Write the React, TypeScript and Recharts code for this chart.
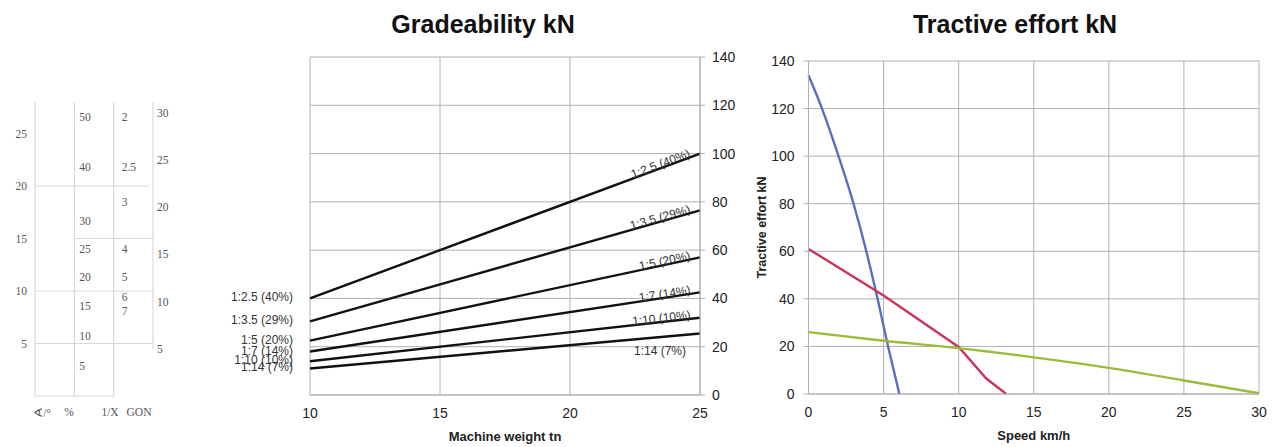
import React from 'react';
import {
  LineChart,
  Line,
  ScatterChart,
  Scatter,
  XAxis,
  YAxis,
  CartesianGrid,
  ReferenceLine,
} from 'recharts';

// Slope conversion scales (left panel)
const scaleNames = ['∢/°', '%', '1/X', 'GON'];
const degreeTicks = [5, 10, 15, 20, 25];
const percentTicks = [50, 40, 30, 25, 20, 15, 10, 5];
const ratioTicks = [2, 2.5, 3, 4, 5, 6, 7];
const gonTicks = [30, 25, 20, 15, 10, 5];

// Gradeability
const machineWeights = [10, 25];
const gradeNames = ['1:2.5 (40%)', '1:3.5 (29%)', '1:5 (20%)', '1:7 (14%)', '1:10 (10%)', '1:14 (7%)'];
const grade40 = [40, 100];
const grade29 = [30.5, 76.5];
const grade20 = [22.5, 57];
const grade14 = [18, 42.5];
const grade10 = [14, 32];
const grade7 = [11, 25.5];
const gradeTicks = [0, 20, 40, 60, 80, 100, 120, 140];
const weightTicks = [10, 15, 20, 25];

// Tractive effort
const speedTicks = [0, 5, 10, 15, 20, 25, 30];
const effortTicks = [0, 20, 40, 60, 80, 100, 120, 140];
const blueSpeed = [0, 0.9, 2.0, 3.0, 3.85, 4.6, 5.3, 6.05];
const blueEffort = [134, 120, 100, 80, 60, 40, 20, 0];
const redSpeed = [0, 5, 10, 11.84, 13.17];
const redEffort = [61, 41.4, 19.8, 6.5, 0];
const greenSpeed = [0, 5, 10, 15, 20, 25, 30];
const greenEffort = [26, 22.4, 19.3, 15.4, 11, 5.7, 0.3];

const SANS = "'Liberation Sans', Arial, sans-serif";
const SERIF = "'Liberation Serif', 'Times New Roman', serif";

const toDeg = (r: number) => (r * 180) / Math.PI;

const slopeScales = [
  { ticks: degreeTicks, toAngle: (v: number) => v, dx: -8, anchor: 'end' },
  { ticks: percentTicks, toAngle: (v: number) => toDeg(Math.atan(v / 100)), dx: 5, anchor: 'start' },
  { ticks: ratioTicks, toAngle: (v: number) => toDeg(Math.atan(1 / v)), dx: 8, anchor: 'start' },
  { ticks: gonTicks, toAngle: (v: number) => v * 0.9, dx: 4, anchor: 'start' },
];

const gradeValues = [grade40, grade29, grade20, grade14, grade10, grade7];
const gradeSeries = gradeNames.map((name, i) => ({
  name,
  data: machineWeights.map((w, j) => ({ weight: w, value: gradeValues[i][j] })),
}));

const toPoints = (xs: number[], ys: number[]) => xs.map((speed, i) => ({ speed, effort: ys[i] }));
const effortSeries = [
  { name: 'blue', color: '#5a6fc2', curve: 'monotone', data: toPoints(blueSpeed, blueEffort) },
  { name: 'red', color: '#c8365c', curve: 'linear', data: toPoints(redSpeed, redEffort) },
  { name: 'green', color: '#9cbb3a', curve: 'monotone', data: toPoints(greenSpeed, greenEffort) },
];

const labelStyle = { fontFamily: SANS, fontSize: 12, fill: '#333' };

// draws the slope name at both ends of each gradeability line
const gradeLabel = (name: string, seriesIndex: number) => (props: any) => {
  const { cx, cy, index, points } = props;
  const key = `${name}-${index}`;
  if (index === 0) {
    return (
      <text key={key} x={cx - 17} y={cy - 1} textAnchor="end" dominantBaseline="central" {...labelStyle}>
        {name}
      </text>
    );
  }
  const first = points ? points[0] : { x: cx - 390, y: cy };
  const slope = (cy - first.y) / (cx - first.x);
  if (seriesIndex === gradeSeries.length - 1) {
    return (
      <text key={key} x={cx - 40} y={cy + 22} textAnchor="middle" {...labelStyle}>
        {name}
      </text>
    );
  }
  const ax = cx - 9;
  const ay = cy - 9 * slope;
  const angle = toDeg(Math.atan(slope));
  return (
    <text
      key={key}
      x={ax}
      y={ay}
      textAnchor="end"
      transform={`rotate(${angle} ${ax} ${ay})`}
      {...labelStyle}
    >
      {name}
    </text>
  );
};

const titleStyle: React.CSSProperties = {
  position: 'absolute',
  top: 11,
  fontFamily: SANS,
  fontWeight: 'bold',
  fontSize: 25,
  lineHeight: '26px',
  color: '#111',
  transform: 'translateX(-50%)',
  whiteSpace: 'nowrap',
};

const App: React.FC = () => {
  const tickFont = { fontFamily: SANS, fontSize: 14, fill: '#222' };
  const gridColor = '#b0b0b0';

  return (
    <div style={{ position: 'absolute', left: 0, top: 0, width: 1277, height: 447, background: '#fff' }}>
      {/* slope conversion scales */}
      <div style={{ position: 'absolute', left: 0, top: 0 }}>
        <ScatterChart width={200} height={447} margin={{ top: 102, right: 47, bottom: 51, left: 35 }}>
          <XAxis type="number" dataKey="col" domain={[0, 3]} hide />
          <YAxis type="number" dataKey="deg" domain={[0, 28]} hide />
          {[0, 1, 2].map((c) => (
            <ReferenceLine key={`v${c}`} segment={[{ x: c, y: 0 }, { x: c, y: 28 }]} stroke="#d2d2d2" />
          ))}
          <ReferenceLine segment={[{ x: 3, y: 4.5 }, { x: 3, y: 28 }]} stroke="#d2d2d2" />
          <ReferenceLine segment={[{ x: 0, y: 20 }, { x: 2.9, y: 20 }]} stroke="#d8d8d8" />
          <ReferenceLine segment={[{ x: 1, y: 15 }, { x: 3, y: 15 }]} stroke="#d8d8d8" />
          <ReferenceLine segment={[{ x: 0, y: 10 }, { x: 3, y: 10 }]} stroke="#d8d8d8" />
          <ReferenceLine segment={[{ x: 0, y: 5 }, { x: 3, y: 5 }]} stroke="#d8d8d8" />
          <ReferenceLine segment={[{ x: 0, y: 0 }, { x: 2, y: 0 }]} stroke="#d8d8d8" />
          {slopeScales.map((s, c) => (
            <Scatter
              key={`scale${c}`}
              isAnimationActive={false}
              data={s.ticks.map((t) => ({ col: c, deg: s.toAngle(t), label: String(t) }))}
              shape={(p: any) => (
                <text
                  x={p.cx + s.dx}
                  y={p.cy}
                  textAnchor={s.anchor as any}
                  dominantBaseline="central"
                  fontFamily={SERIF}
                  fontSize={11.5}
                  fill="#555"
                >
                  {p.payload.label}
                </text>
              )}
            />
          ))}
        </ScatterChart>
        {scaleNames.map((n, i) => (
          <div
            key={n}
            style={{
              position: 'absolute',
              top: 406,
              left: [42, 69, 110, 139][i],
              transform: 'translateX(-50%)',
              fontFamily: SERIF,
              fontSize: 11.5,
              color: '#555',
              whiteSpace: 'nowrap',
            }}
          >
            {n}
          </div>
        ))}
      </div>

      {/* gradeability */}
      <div style={{ ...titleStyle, left: 483 }}>Gradeability kN</div>
      <div style={{ position: 'absolute', left: 230, top: 0 }}>
        <LineChart width={530} height={447} margin={{ top: 57, right: 0, bottom: 2, left: 80 }}>
          <CartesianGrid stroke={gridColor} />
          <XAxis
            type="number"
            dataKey="weight"
            domain={[10, 25]}
            ticks={weightTicks}
            height={50}
            tickLine={false}
            axisLine={{ stroke: gridColor }}
            tickSize={5}
            tickMargin={8}
            tick={tickFont}
            label={{
              value: 'Machine weight tn',
              position: 'insideBottom',
              offset: 4,
              style: { fontFamily: SANS, fontSize: 13, fontWeight: 'bold', fill: '#222' },
            }}
          />
          <YAxis
            orientation="right"
            type="number"
            domain={[0, 140]}
            ticks={gradeTicks}
            width={60}
            tickSize={5}
            tickMargin={7}
            axisLine={{ stroke: gridColor }}
            tickLine={{ stroke: gridColor }}
            tick={tickFont}
          />
          {gradeSeries.map((s, i) => (
            <Line
              key={s.name}
              data={s.data}
              dataKey="value"
              type="linear"
              stroke="#111"
              strokeWidth={2.4}
              dot={gradeLabel(s.name, i)}
              activeDot={false}
              isAnimationActive={false}
            />
          ))}
        </LineChart>
      </div>

      {/* tractive effort */}
      <div style={{ ...titleStyle, left: 1015 }}>Tractive effort kN</div>
      <div style={{ position: 'absolute', left: 740, top: 0 }}>
        <LineChart width={537} height={447} margin={{ top: 61, right: 18, bottom: 3, left: 0 }}>
          <CartesianGrid stroke={gridColor} />
          <XAxis
            type="number"
            dataKey="speed"
            domain={[0, 30]}
            ticks={speedTicks}
            height={50}
            tickSize={5}
            tickMargin={8}
            tickLine={false}
            axisLine={{ stroke: gridColor }}
            tick={tickFont}
            label={{
              value: 'Speed km/h',
              position: 'insideBottom',
              offset: 4,
              style: { fontFamily: SANS, fontSize: 13, fontWeight: 'bold', fill: '#222' },
            }}
          />
          <YAxis
            type="number"
            domain={[0, 140]}
            ticks={effortTicks}
            width={68.5}
            tickSize={5}
            tickMargin={9}
            axisLine={{ stroke: gridColor }}
            tickLine={{ stroke: gridColor }}
            tick={tickFont}
            label={{
              value: 'Tractive effort kN',
              angle: -90,
              position: 'insideLeft',
              offset: 22,
              style: { textAnchor: 'middle', fontFamily: SANS, fontSize: 12.5, fontWeight: 'bold', fill: '#222' },
            }}
          />
          {effortSeries.map((s) => (
            <Line
              key={s.name}
              data={s.data}
              dataKey="effort"
              type={s.curve as any}
              stroke={s.color}
              strokeWidth={2.4}
              dot={false}
              activeDot={false}
              isAnimationActive={false}
            />
          ))}
        </LineChart>
      </div>
    </div>
  );
};

export default App;
